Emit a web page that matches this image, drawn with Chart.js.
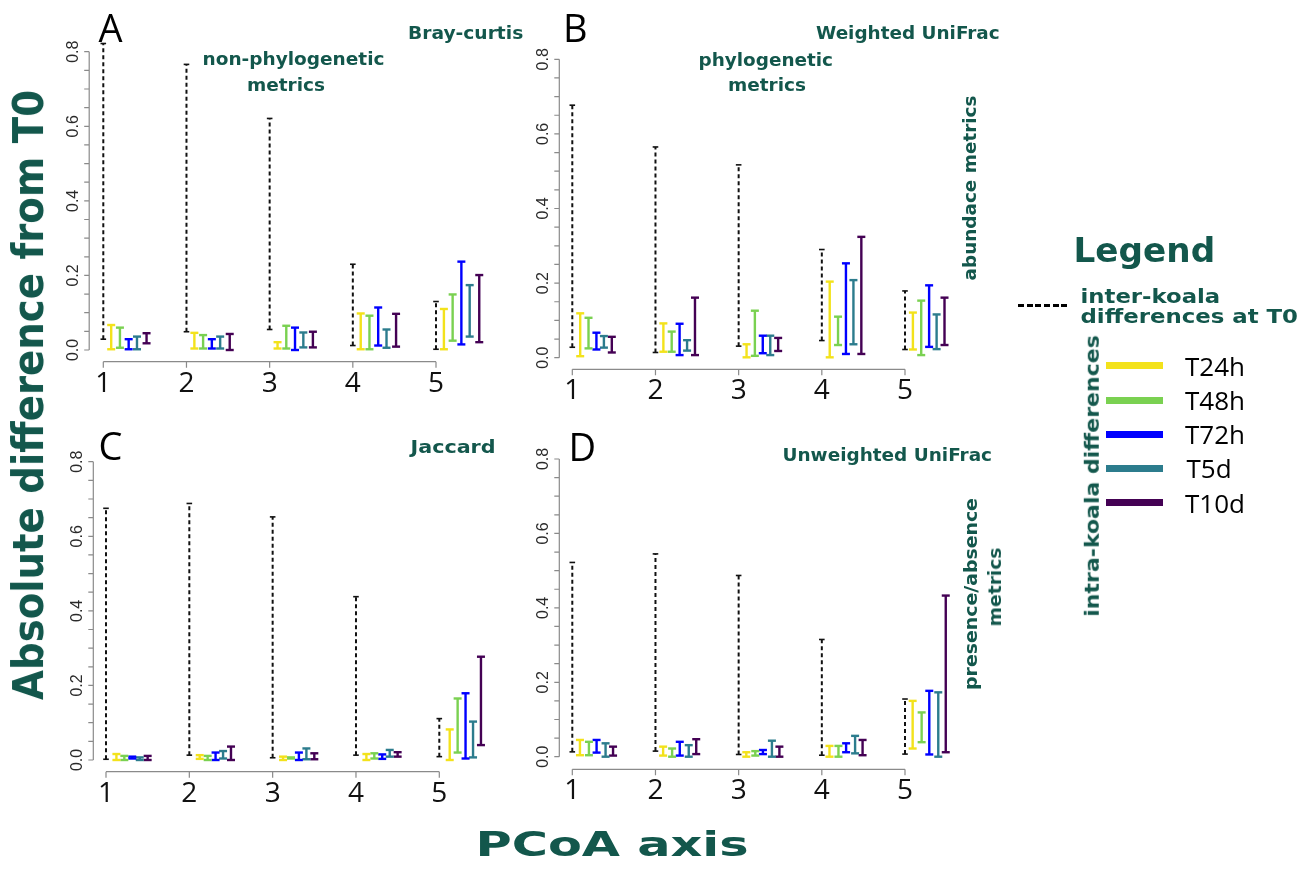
<!DOCTYPE html>
<html>
<head>
<meta charset="utf-8">
<script src="https://cdn.jsdelivr.net/npm/chart.js@4.4.1/dist/chart.umd.min.js"></script>
<style>
  body { margin: 0; background: #fff; width: 1309px; height: 874px; overflow: hidden; position: relative; }
  canvas { position: absolute; left: 0; top: 0; }
  .t { position: absolute; white-space: nowrap; line-height: 1; transform-origin: 50% 50%; }
  .h { font-family: "DejaVu Sans", sans-serif; font-weight: bold; color: #13574c; }
  .n { font-family: "Open Sans", sans-serif; color: #000; }
  .key { position: absolute; height: 7px; width: 57px; left: 1106px; }
</style>
</head>
<body>
<canvas id="cA" width="1309" height="874"></canvas>
<canvas id="cB" width="1309" height="874"></canvas>
<canvas id="cC" width="1309" height="874"></canvas>
<canvas id="cD" width="1309" height="874"></canvas>
<script>
// PCoA axes on the x scale, y ticks as drawn by R
const pcoaAxes = [1, 2, 3, 4, 5];
const yMinorTicks = [0, 0.05, 0.1, 0.15, 0.2, 0.25, 0.3, 0.35, 0.4, 0.45, 0.5, 0.55, 0.6, 0.65, 0.7, 0.75, 0.8];
const yLabelValues = [0, 0.2, 0.4, 0.6, 0.8];
const yTickLabels = ['0.0', '0.2', '0.4', '0.6', '0.8'];

const seriesNames = ['T24h', 'T48h', 'T72h', 'T5d', 'T10d'];
const seriesColors = ['#F3E21B', '#7AD151', '#0000FF', '#2C7C8D', '#440154'];

// [low, high] per PCoA axis 1..5
// A - Bray-curtis
const brayInter = [[0.029, 0.822], [0.049, 0.766], [0.055, 0.621], [0.012, 0.230], [0.002, 0.130]];
const brayT24h  = [[0.002, 0.067], [0.004, 0.046], [0.004, 0.021], [0.002, 0.098], [0.002, 0.110]];
const brayT48h  = [[0.006, 0.060], [0.004, 0.040], [0.004, 0.065], [0.002, 0.092], [0.025, 0.149]];
const brayT72h  = [[0.002, 0.029], [0.004, 0.029], [0.000, 0.060], [0.012, 0.114], [0.015, 0.237]];
const brayT5d   = [[0.002, 0.036], [0.004, 0.036], [0.007, 0.047], [0.006, 0.055], [0.036, 0.174]];
const brayT10d  = [[0.018, 0.045], [0.000, 0.043], [0.007, 0.049], [0.009, 0.097], [0.021, 0.201]];

// B - Weighted UniFrac
const wuniInter = [[0.028, 0.677], [0.014, 0.565], [0.031, 0.517], [0.046, 0.290], [0.022, 0.179]];
const wuniT24h  = [[0.004, 0.119], [0.016, 0.092], [0.001, 0.036], [0.001, 0.204], [0.022, 0.121]];
const wuniT48h  = [[0.025, 0.107], [0.016, 0.070], [0.005, 0.126], [0.034, 0.110], [0.007, 0.153]];
const wuniT72h  = [[0.022, 0.067], [0.007, 0.091], [0.012, 0.059], [0.010, 0.253], [0.029, 0.194]];
const wuniT5d   = [[0.027, 0.058], [0.019, 0.047], [0.007, 0.059], [0.036, 0.208], [0.023, 0.116]];
const wuniT10d  = [[0.014, 0.056], [0.007, 0.161], [0.018, 0.053], [0.010, 0.324], [0.034, 0.161]];

// C - Jaccard
const jaccInter = [[0.002, 0.675], [0.013, 0.688], [0.006, 0.652], [0.013, 0.438], [0.009, 0.111]];
const jaccT24h  = [[0.000, 0.016], [0.003, 0.013], [0.000, 0.009], [0.000, 0.016], [0.000, 0.082]];
const jaccT48h  = [[0.000, 0.011], [0.000, 0.011], [0.004, 0.007], [0.004, 0.018], [0.020, 0.165]];
const jaccT72h  = [[0.004, 0.009], [0.000, 0.020], [0.000, 0.020], [0.003, 0.015], [0.004, 0.179]];
const jaccT5d   = [[0.000, 0.007], [0.004, 0.024], [0.002, 0.031], [0.009, 0.027], [0.007, 0.103]];
const jaccT10d  = [[0.000, 0.011], [0.000, 0.036], [0.002, 0.018], [0.009, 0.021], [0.040, 0.277]];

// D - Unweighted UniFrac
const uuniInter = [[0.013, 0.522], [0.015, 0.545], [0.006, 0.487], [0.004, 0.315], [0.007, 0.155]];
const uuniT24h  = [[0.004, 0.045], [0.003, 0.027], [0.000, 0.012], [0.000, 0.029], [0.022, 0.150]];
const uuniT48h  = [[0.004, 0.040], [0.000, 0.022], [0.003, 0.015], [0.000, 0.029], [0.039, 0.119]];
const uuniT72h  = [[0.011, 0.045], [0.003, 0.040], [0.007, 0.018], [0.012, 0.036], [0.006, 0.177]];
const uuniT5d   = [[0.000, 0.036], [0.000, 0.031], [0.000, 0.043], [0.009, 0.056], [0.000, 0.173]];
const uuniT10d  = [[0.003, 0.027], [0.007, 0.047], [0.000, 0.027], [0.004, 0.045], [0.012, 0.433]];

// pixel anchors of each panel (axis lines, tick 1 / tick 5, value 0 / 0.8)
const panels = [
  { id: 'cA', inter: brayInter, sets: [brayT24h, brayT48h, brayT72h, brayT5d, brayT10d],
    offsets: [0.095, 0.2, 0.305, 0.405, 0.52], left: 89.2, x1: 103.3, x5: 436, y0: 350, y8: 51.7, bottom: 361.7 },
  { id: 'cB', inter: wuniInter, sets: [wuniT24h, wuniT48h, wuniT72h, wuniT5d, wuniT10d],
    offsets: [0.095, 0.195, 0.29, 0.38, 0.475], left: 559.3, x1: 572.3, x5: 905, y0: 357.7, y8: 59.3, bottom: 369.3 },
  { id: 'cC', inter: jaccInter, sets: [jaccT24h, jaccT48h, jaccT72h, jaccT5d, jaccT10d],
    offsets: [0.125, 0.22, 0.315, 0.405, 0.5], left: 93.3, x1: 106, x5: 439.3, y0: 760, y8: 461.7, bottom: 771.7 },
  { id: 'cD', inter: uuniInter, sets: [uuniT24h, uuniT48h, uuniT72h, uuniT5d, uuniT10d],
    offsets: [0.092, 0.2, 0.292, 0.4, 0.49], left: 559.3, x1: 572.3, x5: 905, y0: 756.7, y8: 459, bottom: 769.3 },
];

function rangePoints(pairs, off) {
  const pts = [];
  pairs.forEach((p, i) => {
    const x = pcoaAxes[i] + off;
    pts.push({ x, y: p[0] }, { x, y: p[1] }, { x, y: null });
  });
  return pts;
}

// R-like axes: lines only from first to last tick, rotated y labels
const rAxes = {
  id: 'rAxes',
  afterDatasetsDraw(chart) {
    const { ctx, chartArea, scales: { x, y } } = chart;
    const ax = chartArea.left, ay = chartArea.bottom;
    ctx.save();
    ctx.strokeStyle = '#8a8a8a';
    ctx.lineWidth = 1.2;
    ctx.beginPath();
    ctx.moveTo(ax, y.getPixelForValue(yMinorTicks[0]));
    ctx.lineTo(ax, y.getPixelForValue(yMinorTicks[yMinorTicks.length - 1]));
    yMinorTicks.forEach(v => {
      const py = y.getPixelForValue(v);
      ctx.moveTo(ax, py); ctx.lineTo(ax - 5, py);
    });
    ctx.moveTo(x.getPixelForValue(pcoaAxes[0]), ay);
    ctx.lineTo(x.getPixelForValue(pcoaAxes[pcoaAxes.length - 1]), ay);
    pcoaAxes.forEach(v => {
      const px = x.getPixelForValue(v);
      ctx.moveTo(px, ay); ctx.lineTo(px, ay + 6);
    });
    ctx.stroke();

    ctx.textAlign = 'center';
    ctx.textBaseline = 'middle';
    ctx.fillStyle = '#2a2a2a';
    ctx.font = '16px "Liberation Sans", Arial, sans-serif';
    yLabelValues.forEach((v, i) => {
      ctx.save();
      ctx.translate(ax - 16, y.getPixelForValue(v));
      ctx.rotate(-Math.PI / 2);
      ctx.fillText(yTickLabels[i], 0, 0);
      ctx.restore();
    });
    ctx.fillStyle = '#111';
    ctx.font = '28px "Open Sans", sans-serif';
    pcoaAxes.forEach(v => ctx.fillText(String(v), x.getPixelForValue(v), ay + 22));
    ctx.restore();
  }
};

panels.forEach(p => {
  const ppuX = (p.x5 - p.x1) / 4;
  const ppuY = (p.y0 - p.y8) / 0.8;
  const top = p.y8 - 25;
  const right = p.x1 + 4.8 * ppuX;
  const xMin = 1 - (p.x1 - p.left) / ppuX;
  const yMin = -(p.bottom - p.y0) / ppuY;
  const yMax = (p.y0 - top) / ppuY;

  const datasets = [{
    label: 'inter-koala differences at T0',
    data: rangePoints(p.inter, 0),
    borderColor: '#111',
    borderWidth: 2,
    borderDash: [4, 3],
    pointStyle: 'line',
    pointRadius: 2.8,
    pointBorderWidth: 1.6,
    pointBorderColor: '#111',
  }];
  p.sets.forEach((s, i) => datasets.push({
    label: seriesNames[i],
    data: rangePoints(s, p.offsets[i]),
    borderColor: seriesColors[i],
    borderWidth: 2.4,
    pointStyle: 'line',
    pointRadius: 4,
    pointBorderWidth: 2.4,
    pointBorderColor: seriesColors[i],
  }));

  new Chart(document.getElementById(p.id), {
    type: 'line',
    data: { datasets },
    options: {
      responsive: false,
      animation: false,
      events: [],
      spanGaps: false,
      datasets: { line: { clip: false, tension: 0 } },
      layout: { padding: { left: p.left, top: top, right: 1309 - right, bottom: 874 - p.bottom } },
      scales: {
        x: { type: 'linear', display: false, min: xMin, max: 5.8 },
        y: { type: 'linear', display: false, min: yMin, max: yMax },
      },
      plugins: { legend: { display: false }, tooltip: { enabled: false } },
    },
    plugins: [rAxes],
  });
});

// text, placed by centre and fitted to a width
function label(text, cx, cy, w, size, cls, rot) {
  const el = document.createElement('div');
  el.className = 't ' + cls;
  el.textContent = text;
  el.style.fontSize = size + 'px';
  document.body.appendChild(el);
  const sx = w ? w / el.offsetWidth : 1;
  el.style.left = (cx - el.offsetWidth / 2) + 'px';
  el.style.top = (cy - el.offsetHeight / 2) + 'px';
  el.style.transform = 'rotate(' + (rot || 0) + 'deg) scaleX(' + sx + ')';
}

label('A', 110.5, 27, 0, 38, 'n');
label('B', 575.5, 27, 0, 38, 'n');
label('C', 110.5, 445, 0, 38, 'n');
label('D', 582.5, 446, 0, 38, 'n');

label('Bray-curtis', 465.5, 33, 115, 18, 'h');
label('non-phylogenetic', 293.5, 58.5, 182, 18, 'h');
label('metrics', 286, 85, 78, 18, 'h');
label('Weighted UniFrac', 908, 33, 184, 18, 'h');
label('phylogenetic', 765.5, 59.5, 135, 18, 'h');
label('metrics', 767, 85, 78, 18, 'h');
label('abundace metrics', 970, 187.5, 185, 18, 'h', -90);
label('Jaccard', 452.5, 446.5, 85, 18, 'h');
label('Unweighted UniFrac', 887, 454.5, 210, 18, 'h');
label('presence/absence', 971, 594, 192, 18, 'h', -90);
label('metrics', 995, 587, 79, 18, 'h', -90);

label('Absolute difference from T0', 28.5, 395, 610, 42, 'h', -90);
label('PCoA  axis', 611.5, 843.5, 273, 34, 'h');

label('Legend', 1144, 249.5, 142, 34, 'h');
label('inter-koala', 1150, 295.5, 140, 20, 'h');
label('differences at T0', 1188.5, 315.5, 217, 20, 'h');
label('intra-koala differences', 1092, 476, 282, 20, 'h', -90);

const dash = document.createElement('div');
dash.style.cssText = 'position:absolute;left:1018px;top:303.5px;width:52px;height:3px;' +
  'background:repeating-linear-gradient(90deg,#000 0 6px,transparent 6px 8.7px);';
document.body.appendChild(dash);

const keyY = [365.7, 400, 434.3, 468.3, 502.7];
seriesNames.forEach((name, i) => {
  const k = document.createElement('div');
  k.className = 'key';
  k.style.top = (keyY[i] - 3.5) + 'px';
  k.style.background = seriesColors[i];
  document.body.appendChild(k);
  label(name, 1185 + (name.length > 3 ? 30 : 24), keyY[i], 0, 26, 'n');
});
</script>
</body>
</html>
